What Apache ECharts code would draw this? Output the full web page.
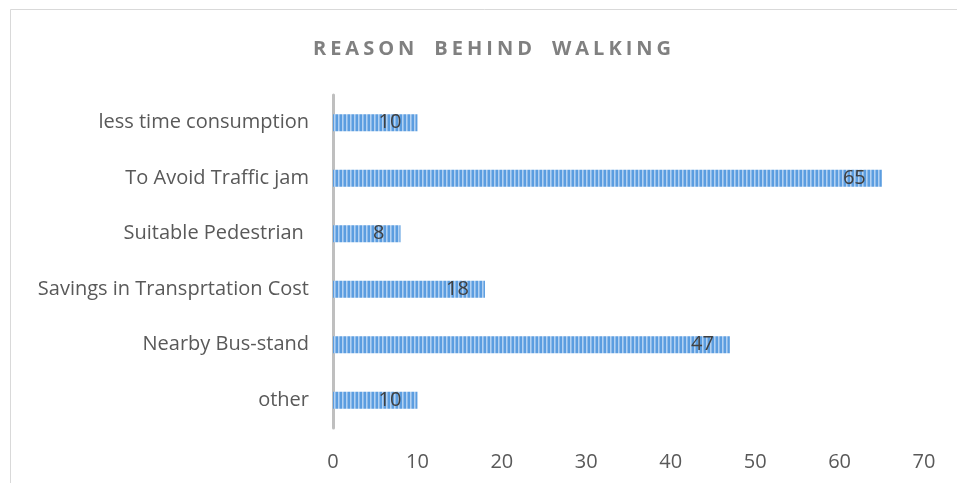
<!DOCTYPE html>
<html>
<head>
<meta charset="utf-8">
<script src="https://cdn.jsdelivr.net/npm/echarts@6/dist/echarts.min.js"></script>
<style>
  html, body { margin: 0; padding: 0; background: #fff; }
  #chart { width: 957px; height: 483px; }
</style>
</head>
<body>
<div id="chart"></div>
<script>
// Survey responses: reasons given for walking
const chartTitle = 'REASON BEHIND WALKING';
const categories = [
  'other',
  'Nearby Bus-stand',
  'Savings in Transprtation Cost',
  'Suitable Pedestrian ',
  'To Avoid Traffic jam',
  'less time consumption'
];
const counts = [10, 47, 18, 8, 65, 10];
const axisTicks = [0, 10, 20, 30, 40, 50, 60, 70];

// Vertical stripe fill for the bars
function stripePattern() {
  const c = document.createElement('canvas');
  c.width = 4; c.height = 4;
  const ctx = c.getContext('2d');
  ctx.fillStyle = '#5b9de0';
  ctx.fillRect(0, 0, 4, 4);
  ctx.fillStyle = '#b2d1f2';
  ctx.fillRect(2, 0, 1, 4);
  ctx.fillStyle = '#8cbaea';
  ctx.fillRect(3, 0, 1, 4);
  return c;
}

const spacedTitle = chartTitle.split(' ')
  .map(w => w.split('').join('\u200A\u200A'))
  .join('\u2002\u2002');

const chart = echarts.init(document.getElementById('chart'), null, { renderer: 'canvas' });
chart.setOption({
  backgroundColor: '#ffffff',
  animation: false,
  title: {
    text: spacedTitle,
    left: 487,
    textAlign: 'center',
    top: 34,
    textStyle: {
      fontFamily: 'Open Sans',
      fontWeight: 'bold',
      fontSize: 20,
      color: '#808080'
    }
  },
  graphic: [{
    type: 'rect',
    silent: true,
    shape: { x: 10.5, y: 9.5, width: 1000, height: 600 },
    style: { fill: 'none', stroke: '#d9d9d9', lineWidth: 1 }
  }],
  grid: { left: 333, right: 33, top: 95, bottom: 55, containLabel: false },
  xAxis: {
    type: 'value',
    min: axisTicks[0],
    max: axisTicks[axisTicks.length - 1],
    interval: axisTicks[1] - axisTicks[0],
    axisLine: { show: false },
    axisTick: { show: false },
    splitLine: { show: false },
    axisLabel: {
      margin: 24,
      fontFamily: 'Open Sans',
      fontSize: 20,
      color: '#595959'
    }
  },
  yAxis: {
    type: 'category',
    data: categories,
    axisLine: { show: true, lineStyle: { color: '#bfbfbf', width: 3 } },
    axisTick: { show: false },
    axisLabel: {
      margin: 24,
      fontFamily: 'Open Sans',
      fontSize: 20,
      color: '#595959'
    }
  },
  series: [{
    type: 'bar',
    data: counts,
    barWidth: 17,
    itemStyle: { color: { image: stripePattern(), repeat: 'repeat' } },
    label: {
      show: true,
      position: 'insideRight',
      distance: 16,
      fontFamily: 'Open Sans',
      fontSize: 20,
      color: '#404040'
    }
  }]
});
</script>
</body>
</html>
